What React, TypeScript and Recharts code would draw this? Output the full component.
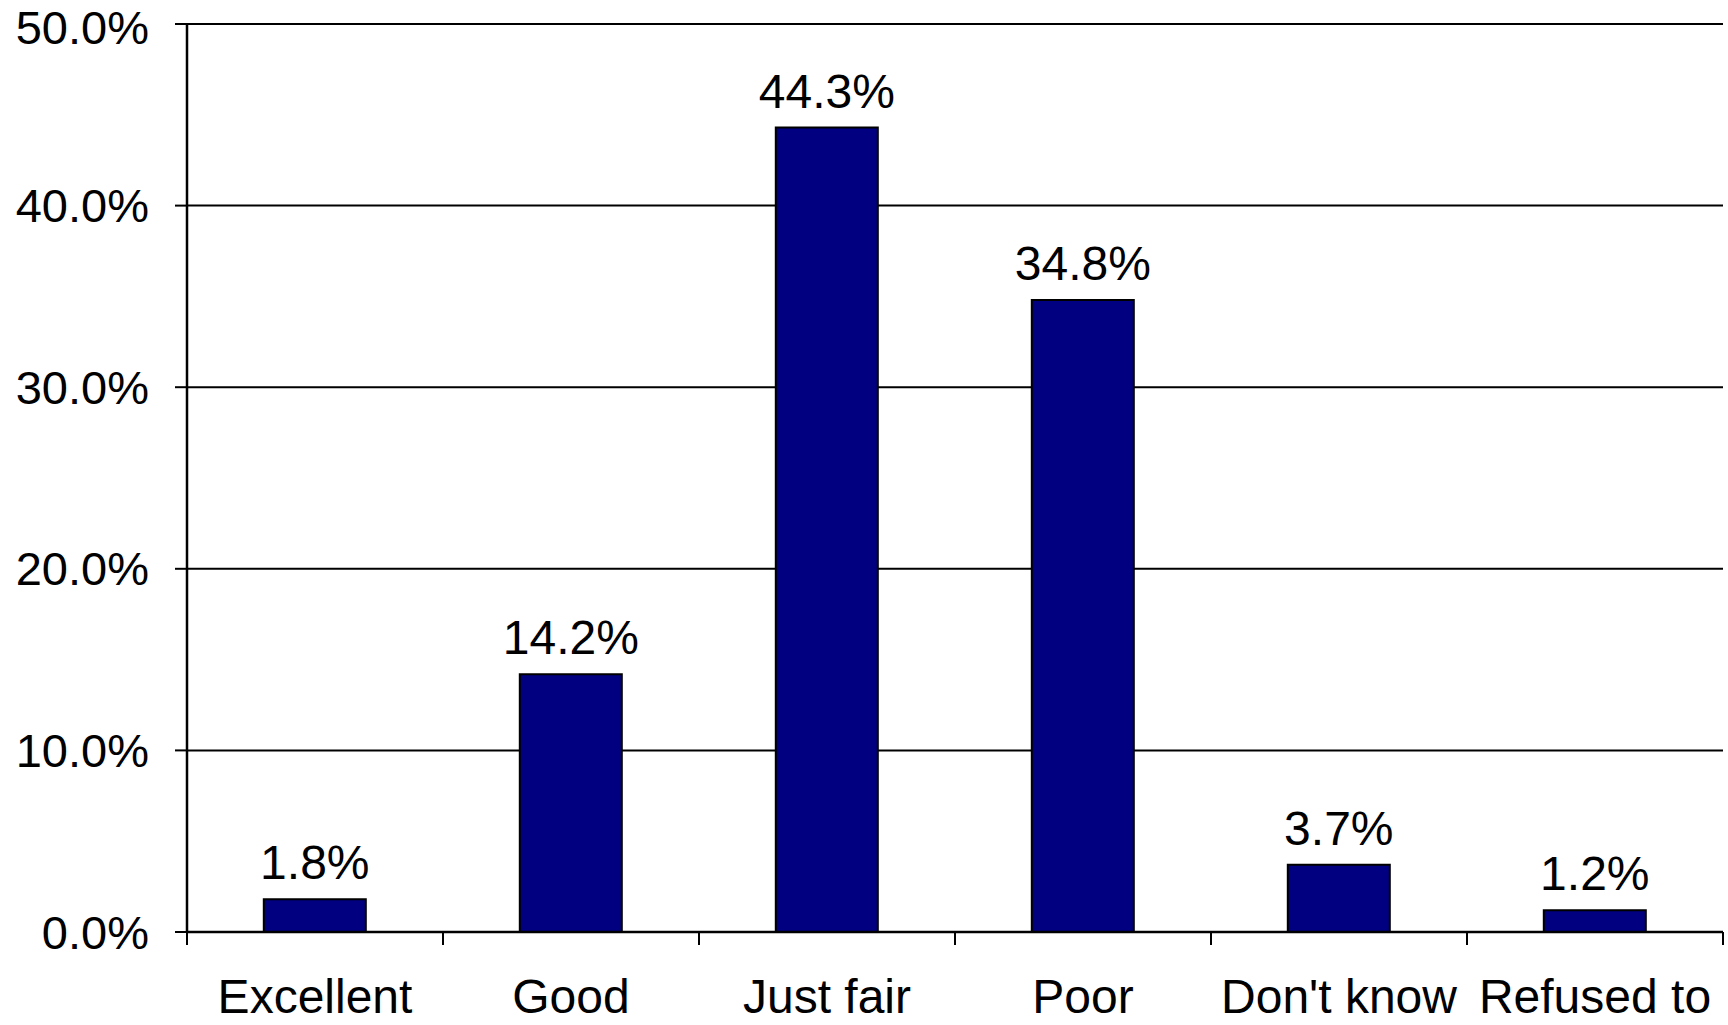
import React from 'react';
import { BarChart, Bar, XAxis, YAxis, CartesianGrid, LabelList } from 'recharts';

const categories = ['Excellent', 'Good', 'Just fair', 'Poor', "Don't know", 'Refused to'];
const values = [1.8, 14.2, 44.3, 34.8, 3.7, 1.2];
const yTicks = [0, 10, 20, 30, 40, 50];

const data = categories.map((c, i) => ({ name: c, value: values[i] }));

const FONT = '"Liberation Sans", Arial, Helvetica, sans-serif';
const X_TICK_SIZE = 13;
const X_TICK_MARGIN = 34;

const CatTick = (props: any) => {
  const { x, y, payload, index, width } = props;
  const half = payload && payload.offset ? payload.offset : width / categories.length / 2;
  const axisY = y - X_TICK_SIZE - X_TICK_MARGIN;
  return (
    <g>
      <line x1={x - half} x2={x - half} y1={axisY} y2={axisY + X_TICK_SIZE} stroke="#000" strokeWidth={2} />
      {index === categories.length - 1 && (
        <line x1={x + half} x2={x + half} y1={axisY} y2={axisY + X_TICK_SIZE} stroke="#000" strokeWidth={2} />
      )}
      <text x={x} y={y} dy="0.71em" textAnchor="middle" fill="#000" fontSize={48} fontFamily={FONT}>
        {payload.value}
      </text>
    </g>
  );
};

export default function App() {
  return (
    <div style={{ position: 'absolute', left: 0, top: 0, width: 1728, height: 1025, background: '#fff' }}>
      <BarChart
        width={1728}
        height={1025}
        data={data}
        margin={{ top: 24, right: 5, bottom: 0, left: 0 }}
        barCategoryGap="30%"
      >
        <CartesianGrid vertical={false} stroke="#000" strokeWidth={2} />
        <XAxis
          dataKey="name"
          height={93}
          tickLine={false}
          tickSize={X_TICK_SIZE}
          tickMargin={X_TICK_MARGIN}
          axisLine={{ stroke: '#000', strokeWidth: 2.5 }}
          tick={<CatTick />}
          interval={0}
        />
        <YAxis
          width={187}
          domain={[0, 50]}
          ticks={yTicks}
          tickSize={12}
          tickMargin={26}
          axisLine={{ stroke: '#000', strokeWidth: 2.5 }}
          tickLine={{ stroke: '#000', strokeWidth: 2 }}
          tick={{ fill: '#000', fontSize: 47, fontFamily: FONT }}
          tickFormatter={(v: number) => v.toFixed(1) + '%'}
        />
        <Bar dataKey="value" fill="#000080" stroke="#000" strokeWidth={2} isAnimationActive={false}>
          <LabelList
            dataKey="value"
            position="top"
            offset={20}
            fill="#000"
            fontSize={48}
            fontFamily={FONT}
            formatter={(v: any) => Number(v).toFixed(1) + '%'}
          />
        </Bar>
      </BarChart>
    </div>
  );
}
